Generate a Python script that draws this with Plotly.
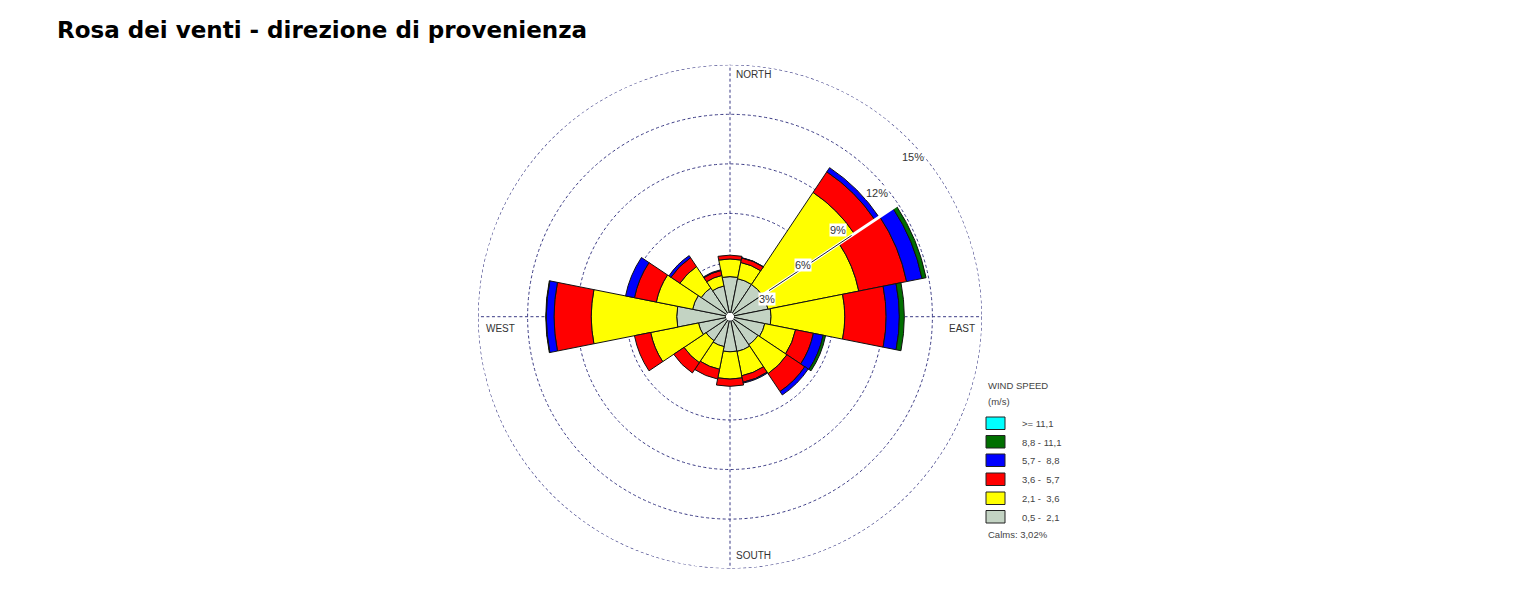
import plotly.graph_objects as go

# ---------------- data (percent frequency per direction and speed class) ----------------
directions = ["N", "NNE", "NE", "ENE", "E", "ESE", "SE", "SSE",
              "S", "SSW", "SW", "WSW", "W", "WNW", "NW", "NNW"]
angles = [0, 22.5, 45, 67.5, 90, 112.5, 135, 157.5,
          180, 202.5, 225, 247.5, 270, 292.5, 315, 337.5]

spd_05_21 = [2.18, 2.10, 2.10, 2.10, 2.24, 1.90, 1.80, 1.90, 1.88, 1.60, 1.50, 1.70, 2.98, 2.06, 1.85, 1.65]
spd_21_36 = [1.07, 1.00, 6.70, 5.60, 4.46, 1.90, 2.10, 1.50, 1.65, 1.40, 1.60, 2.95, 5.17, 2.24, 1.55, 0.65]
spd_36_57 = [0.23, 0.28, 1.50, 2.95, 2.50, 1.10, 1.30, 0.40, 0.44, 0.60, 0.75, 1.00, 2.25, 1.35, 0.65, 0.30]
spd_57_88 = [0.00, 0.02, 0.30, 0.95, 0.80, 0.60, 0.25, 0.05, 0.00, 0.00, 0.00, 0.00, 0.47, 0.55, 0.15, 0.05]
spd_88_111 = [0.00, 0.00, 0.00, 0.25, 0.30, 0.15, 0.00, 0.00, 0.00, 0.00, 0.00, 0.00, 0.03, 0.00, 0.00, 0.00]
spd_ge_111 = [0.0] * 16

class_labels = ["0,5 -  2,1", "2,1 -  3,6", "3,6 -  5,7", "5,7 -  8,8", "8,8 - 11,1", ">= 11,1"]
class_colors = ["#c3d3c3", "#ffff00", "#ff0000", "#0000ff", "#006f00", "#00ffff"]
ring_values = [3, 6, 9, 12, 15]
ring_labels = ["3%", "6%", "9%", "12%", "15%"]
calms_text = "Calms: 3,02%"
title_text = "Rosa dei venti - direzione di provenienza"

# ---------------- figure ----------------
W, H = 1520, 608
cx, cy, R = 730, 316.7, 252
grid_col = "#3b3b85"
grid_dash = "3px,2.5px"

fig = go.Figure()
series = [spd_05_21, spd_21_36, spd_36_57, spd_57_88, spd_88_111, spd_ge_111]
for vals, lab, col in zip(series, class_labels, class_colors):
    fig.add_trace(go.Barpolar(
        r=vals, theta=angles, width=[22.5] * 16, name=lab,
        marker=dict(color=col, line=dict(color="#111111", width=1)),
        showlegend=False, hoverinfo="skip"))

# outer 15% ring (drawn as a line so it is not lost at the axis edge)
ring_theta = [i * 2 for i in range(181)]
fig.add_trace(go.Scatterpolar(r=[ring_values[-1]] * len(ring_theta), theta=ring_theta, mode="lines",
                              line=dict(color=grid_col, width=1.2, dash=grid_dash),
                              showlegend=False, hoverinfo="skip", cliponaxis=False))

# white gap with leader line between NE and ENE sectors (ring label guide)
fig.add_trace(go.Scatterpolar(r=[2.2, 11.9], theta=[56.25, 56.25], mode="lines",
                              line=dict(color="white", width=3), showlegend=False, hoverinfo="skip"))
fig.add_trace(go.Scatterpolar(r=[2.6, 8.6], theta=[56.25, 56.25], mode="lines",
                              line=dict(color="#222222", width=1), showlegend=False, hoverinfo="skip"))

fig.update_layout(
    width=W, height=H,
    margin=dict(l=0, r=0, t=0, b=0),
    paper_bgcolor="white",
    polar=dict(
        domain=dict(x=[(cx - R) / W, (cx + R) / W], y=[(H - cy - R) / H, (H - cy + R) / H]),
        bgcolor="white",
        hole=0.016,
        barmode="stack",
        radialaxis=dict(range=[0, 15], tickvals=ring_values[:-1], showticklabels=False, ticks="",
                        showline=False, gridcolor=grid_col, griddash=grid_dash, gridwidth=1),
        angularaxis=dict(rotation=90, direction="clockwise", tickvals=[0, 90, 180, 270],
                         showticklabels=False, ticks="", showline=False,
                         gridcolor=grid_col, griddash=grid_dash, gridwidth=1),
    ),
)

def px(x, y):
    return x / W, 1 - y / H

def note(text, x, y, font, xanchor="center", **kw):
    ax, ay = px(x, y)
    fig.add_annotation(x=ax, y=ay, xref="paper", yref="paper", text=text, showarrow=False,
                       xanchor=xanchor, yanchor="middle", font=font, **kw)

# ring labels
label_pos = [(767, 299), (803, 265), (838, 230), (877, 193), (913, 157)]
ring_font = dict(family="Liberation Sans, Arial", size=11, color="#333333")
for (x, y), t in zip(label_pos, ring_labels):
    note(t, x, y, ring_font, bgcolor="white", borderpad=0)

# compass labels
lab_font = dict(family="Liberation Sans, Arial", size=10, color="#333333")
for t, x, y, anc in [("NORTH", 734, 75, "left"), ("SOUTH", 734, 555, "left"),
                     ("WEST", 484, 329, "left"), ("EAST", 977, 329, "right")]:
    note(t, x, y, lab_font, xanchor=anc)

# legend (custom)
leg_font = dict(family="Liberation Sans, Arial", size=9.5, color="#444444")
note("WIND SPEED", 986, 386, leg_font, xanchor="left")
note("(m/s)", 986, 401, leg_font, xanchor="left")
box_top = [417, 435.5, 454, 473, 492, 510.5]
for i, (lab, col) in enumerate(zip(class_labels[::-1], class_colors[::-1])):
    y0 = box_top[i]
    x0a, y0a = px(986, y0)
    x1a, y1a = px(1005, y0 + 12.5)
    fig.add_shape(type="rect", xref="paper", yref="paper", x0=x0a, x1=x1a, y0=y1a, y1=y0a,
                  fillcolor=col, line=dict(color="#222222", width=1))
    note(lab.replace(" ", "&nbsp;"), 1020, y0 + 6.5, leg_font, xanchor="left")
note(calms_text, 986, 534, leg_font, xanchor="left")

# title
note("<b>" + title_text + "</b>", 55, 30, dict(family="DejaVu Sans", size=23, color="black"),
     xanchor="left")

fig.write_html("out.html", config={"displayModeBar": False},
               post_script="document.body.style.margin='0';document.body.style.overflow='hidden';")
